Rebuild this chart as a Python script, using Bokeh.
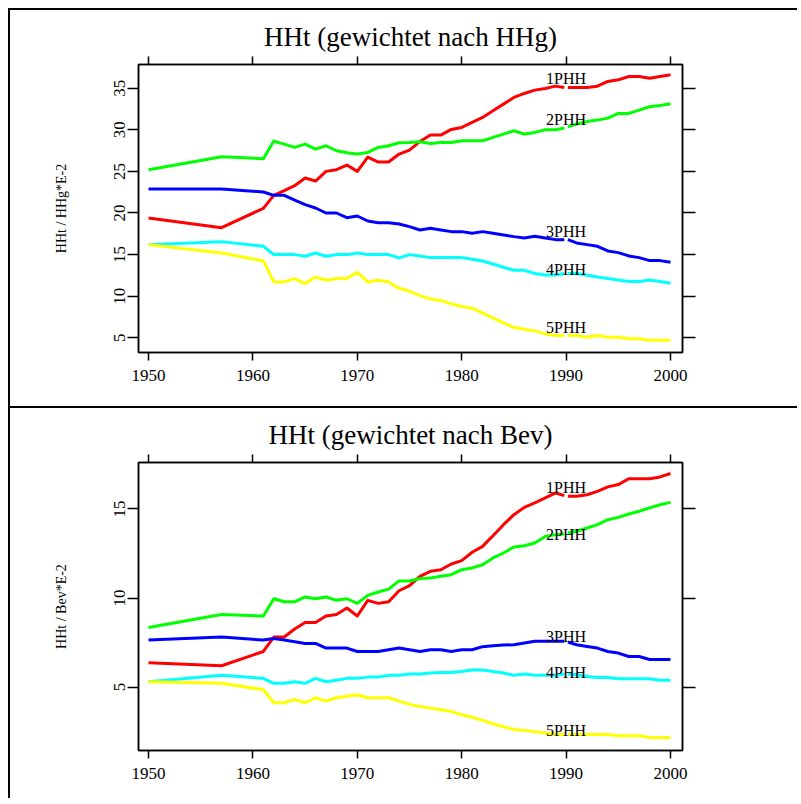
from bokeh.plotting import figure
from bokeh.layouts import column
from bokeh.models import Range1d, LinearAxis, FixedTicker
from bokeh.core.properties import value
from bokeh.embed import file_html
from bokeh.resources import INLINE

# ---------------- data ----------------
years_a = [1950, 1957] + list(range(1961, 1991))   # former territory, up to 1990
years_b = list(range(1990, 2001))                  # from 1990 on
series_names = ["1PHH", "2PHH", "3PHH", "4PHH", "5PHH"]
series_colors = ["#ff0000", "#00ff00", "#0000ff", "#00ffff", "#ffff00"]
x_ticks = [1950, 1960, 1970, 1980, 1990, 2000]
label_year = 1990

# panel 1: weighted by HHg
hhg_a = {
    "1PHH": [19.4, 18.24, 20.56, 22.12, 22.68, 23.28, 24.2, 23.84, 25.0, 25.2, 25.76, 25.0, 26.72, 26.12, 26.12, 27.08, 27.56,
             28.6, 29.36, 29.36, 30.04, 30.28, 30.88, 31.48, 32.28, 33.08, 33.88, 34.36, 34.76, 34.96, 35.24, 35.08],
    "2PHH": [25.2, 26.76, 26.52, 28.64, 28.28, 27.88, 28.28, 27.68, 28.08, 27.48, 27.24, 27.08, 27.28, 27.88, 28.08, 28.44, 28.48,
             28.56, 28.36, 28.48, 28.48, 28.68, 28.68, 28.68, 29.08, 29.48, 29.88, 29.48, 29.68, 30.0, 30.0, 30.2],
    "3PHH": [22.88, 22.88, 22.52, 22.12, 22.12, 21.56, 21.0, 20.6, 20.0, 20.0, 19.44, 19.64, 19.04, 18.84, 18.84, 18.68, 18.36,
             17.96, 18.16, 17.96, 17.76, 17.76, 17.56, 17.76, 17.56, 17.36, 17.16, 17.0, 17.2, 17.0, 16.8, 16.8],
    "4PHH": [16.2, 16.56, 16.0, 15.0, 15.0, 15.0, 14.8, 15.2, 14.8, 15.0, 15.0, 15.2, 15.0, 15.0, 15.0, 14.6, 15.0,
             14.84, 14.64, 14.64, 14.64, 14.64, 14.44, 14.24, 13.88, 13.48, 13.12, 13.12, 12.72, 12.56, 12.56, 12.72],
    "5PHH": [16.2, 15.2, 14.24, 11.72, 11.72, 12.12, 11.52, 12.32, 11.92, 12.12, 12.12, 12.88, 11.72, 11.92, 11.72, 10.96, 10.6,
             10.08, 9.68, 9.48, 9.08, 8.76, 8.56, 8.0, 7.4, 6.8, 6.24, 6.04, 5.84, 5.48, 5.28, 5.28],
}
hhg_b = {
    "1PHH": [35.08, 35.08, 35.08, 35.24, 35.8, 36.0, 36.4, 36.4, 36.2, 36.4, 36.6],
    "2PHH": [30.36, 30.68, 31.0, 31.16, 31.4, 31.96, 31.96, 32.36, 32.76, 32.92, 33.12],
    "3PHH": [16.8, 16.4, 16.2, 16.0, 15.44, 15.24, 14.84, 14.64, 14.28, 14.28, 14.08],
    "4PHH": [12.72, 12.72, 12.52, 12.32, 12.12, 11.96, 11.76, 11.76, 11.96, 11.76, 11.56],
    "5PHH": [5.28, 5.28, 5.08, 5.28, 5.08, 5.08, 4.88, 4.88, 4.72, 4.72, 4.72],
}
hhg_label_y = [36.2, 31.2, 17.76, 13.16, 6.2]

# panel 2: weighted by Bev
bev_a = {
    "1PHH": [6.37, 6.2, 7.0, 7.81, 7.81, 8.26, 8.63, 8.63, 8.99, 9.08, 9.44, 8.99, 9.87, 9.70, 9.79, 10.41, 10.7,
             11.22, 11.5, 11.59, 11.91, 12.1, 12.57, 12.9, 13.5, 14.12, 14.68, 15.09, 15.34, 15.62, 15.9, 15.75],
    "2PHH": [8.35, 9.08, 8.99, 9.96, 9.79, 9.79, 10.06, 9.96, 10.06, 9.87, 9.96, 9.70, 10.15, 10.34, 10.5, 10.96, 10.96,
             11.09, 11.12, 11.22, 11.31, 11.59, 11.69, 11.87, 12.25, 12.53, 12.87, 12.94, 13.09, 13.46, 13.56, 13.6],
    "3PHH": [7.64, 7.81, 7.64, 7.73, 7.64, 7.55, 7.45, 7.45, 7.19, 7.19, 7.19, 7.0, 7.0, 7.0, 7.1, 7.19, 7.1,
             7.0, 7.1, 7.1, 7.0, 7.1, 7.1, 7.27, 7.32, 7.36, 7.38, 7.47, 7.57, 7.57, 7.57, 7.57],
    "4PHH": [5.3, 5.66, 5.49, 5.21, 5.21, 5.3, 5.21, 5.49, 5.3, 5.39, 5.49, 5.49, 5.56, 5.56, 5.66, 5.66, 5.73,
             5.73, 5.79, 5.82, 5.82, 5.88, 5.96, 5.96, 5.88, 5.79, 5.66, 5.73, 5.66, 5.66, 5.66, 5.73],
    "5PHH": [5.3, 5.21, 4.85, 4.12, 4.12, 4.31, 4.12, 4.4, 4.21, 4.4, 4.49, 4.57, 4.4, 4.4, 4.4, 4.21, 4.03,
             3.91, 3.82, 3.73, 3.63, 3.45, 3.31, 3.13, 2.94, 2.77, 2.62, 2.57, 2.49, 2.42, 2.34, 2.34],
}
bev_b = {
    "1PHH": [15.71, 15.71, 15.8, 15.99, 16.24, 16.37, 16.7, 16.7, 16.7, 16.8, 16.99],
    "2PHH": [13.65, 13.75, 13.93, 14.12, 14.4, 14.53, 14.72, 14.87, 15.06, 15.24, 15.37],
    "3PHH": [7.53, 7.38, 7.28, 7.19, 7.0, 6.91, 6.72, 6.72, 6.55, 6.55, 6.55],
    "4PHH": [5.73, 5.69, 5.6, 5.54, 5.54, 5.47, 5.47, 5.47, 5.47, 5.39, 5.39],
    "5PHH": [2.34, 2.34, 2.34, 2.34, 2.34, 2.27, 2.27, 2.27, 2.17, 2.17, 2.17],
}
bev_label_y = [16.18, 13.56, 7.85, 5.82, 2.55]

FONT = "Liberation Serif"
GAP = 0.17  # half-width of the visual break at 1990 (years)


def make_panel(title, ylabel, data_a, data_b, label_y, y_rng, y_ticks, height, min_bottom):
    p = figure(width=789, height=height, x_range=Range1d(1949.04, 2001.15),
               y_range=Range1d(*y_rng), output_backend="svg", toolbar_location=None,
               min_border_left=128, min_border_right=117, min_border_top=54,
               min_border_bottom=min_bottom,
               styles={"border-top": "2px solid black", "border-left": "2px solid black"})
    p.title.text = title
    p.title.align = "center"
    p.title.text_font = FONT
    p.title.text_font_size = "27px"
    p.title.text_font_style = "normal"
    p.title.text_color = "black"
    p.title.standoff = 9
    p.grid.visible = False
    p.outline_line_color = "black"
    p.outline_line_width = 1.5
    p.background_fill_color = "white"
    p.border_fill_color = "white"

    p.add_layout(LinearAxis(), "above")
    p.add_layout(LinearAxis(), "right")

    for ax in p.axis:
        ax.minor_tick_line_color = None
        ax.major_tick_in = 0
        ax.axis_line_width = 1.5
        ax.major_tick_line_width = 1.5
        ax.axis_line_color = "black"
        ax.major_tick_line_color = "black"
        ax.major_label_text_font = FONT
        ax.major_label_text_font_size = "17px"
        ax.major_label_text_color = "black"
    for ax in p.xaxis:
        ax.ticker = FixedTicker(ticks=x_ticks)
    for ax in p.yaxis:
        ax.ticker = FixedTicker(ticks=y_ticks)

    for ax, out in ((p.above[-1], 8), (p.right[-1], 13)):
        ax.major_tick_out = out
        ax.major_label_text_font_size = "0px"
        ax.major_label_text_color = None

    p.below[0].major_tick_out = 8
    p.below[0].major_label_standoff = 9

    la = p.left[0]
    la.major_tick_out = 11
    la.major_label_orientation = "vertical"
    la.major_label_standoff = 2
    la.axis_label = ylabel
    la.axis_label_text_font = FONT
    la.axis_label_text_font_size = "14px"
    la.axis_label_text_font_style = "normal"
    la.axis_label_text_color = "black"
    la.axis_label_standoff = 43

    for name, col in zip(series_names, series_colors):
        xa = years_a[:-1] + [years_a[-1] - GAP]
        xb = [years_b[0] + GAP] + years_b[1:]
        p.line(xa, data_a[name], line_color=col, line_width=3, line_join="round")
        p.line(xb, data_b[name], line_color=col, line_width=3, line_join="round")

    p.text(x=[label_year] * len(series_names), y=label_y, text=series_names,
           text_font=value(FONT), text_font_size="16px", text_align="center",
           text_baseline="alphabetic", text_color="black")
    return p


p1 = make_panel("HHt (gewichtet nach HHg)", "HHt / HHg*E-2", hhg_a, hhg_b, hhg_label_y,
                (3.24, 37.84), [5, 10, 15, 20, 25, 30, 35], 398, 56)
p2 = make_panel("HHt (gewichtet nach Bev)", "HHt / Bev*E-2", bev_a, bev_b, bev_label_y,
                (1.44, 17.61), [5, 10, 15], 392, 50)

layout = column(p1, p2, spacing=0, styles={"margin-left": "8px", "margin-top": "8px"})
open("out.html", "w").write(file_html(layout, INLINE))
